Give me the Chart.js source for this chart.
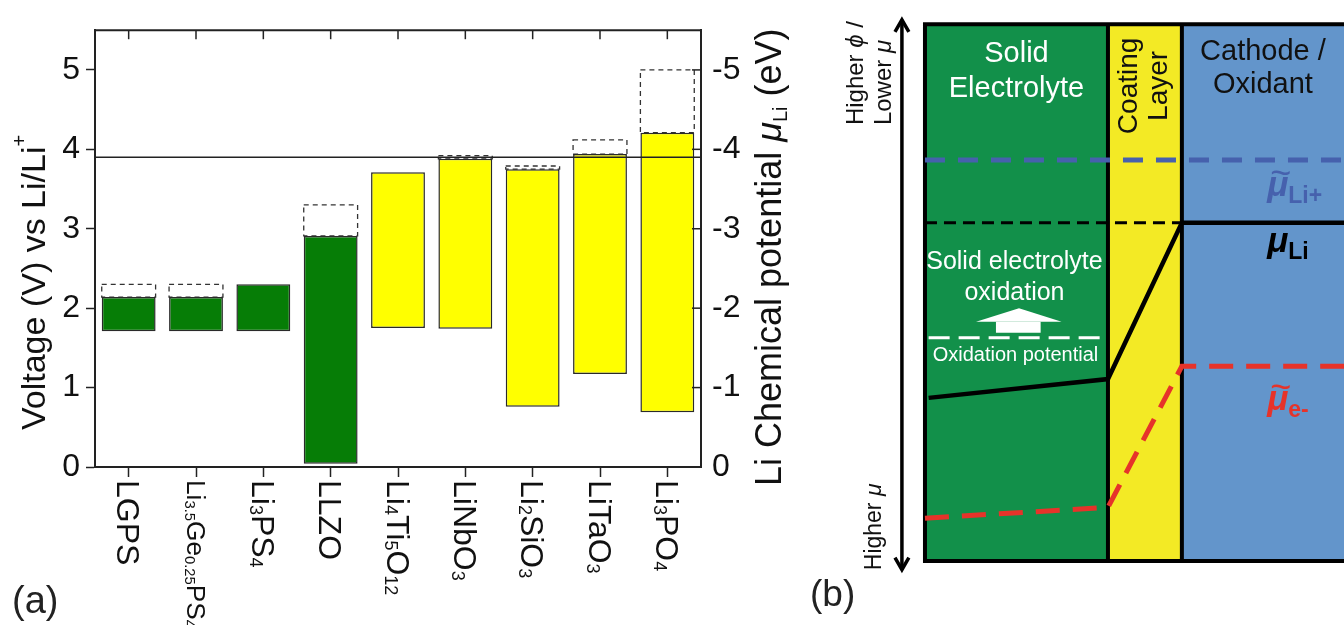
<!DOCTYPE html>
<html>
<head>
<meta charset="utf-8">
<script src="https://cdn.jsdelivr.net/npm/chart.js@4.4.0/dist/chart.umd.min.js"></script>
<style>
  html, body { margin: 0; padding: 0; background: #fff; }
  #wrap { position: relative; width: 1344px; height: 625px; overflow: hidden; }
  #chartA { position: absolute; left: 0; top: 0; }
  #chartB { position: absolute; left: 800px; top: 0; }
</style>
</head>
<body>
<div id="wrap">
  <canvas id="chartA" width="800" height="625"></canvas>
  <canvas id="chartB" width="544" height="625"></canvas>
</div>
<script>
// ---- panel (a): electrochemical windows ----
const categories = ['LGPS', 'Li_{3.5}Ge_{0.25}PS_{4}', 'Li_{3}PS_{4}', 'LLZO', 'Li_{4}Ti_{5}O_{12}',
  'LiNbO_{3}', 'Li_{2}SiO_{3}', 'LiTaO_{3}', 'Li_{3}PO_{4}'];
const windowLow = [1.71, 1.71, 1.71, 0.04, 1.75, 1.74, 0.76, 1.17, 0.69];
const windowHigh = [2.14, 2.14, 2.30, 2.91, 3.71, 3.88, 3.75, 3.94, 4.21];
const extendedHigh = [2.30, 2.30, null, 3.30, null, 3.92, 3.79, 4.12, 5.00];
const barColors = ['#067d06', '#067d06', '#067d06', '#067d06', '#ffff00', '#ffff00', '#ffff00', '#ffff00', '#ffff00'];
const cathodeVoltage = 3.9;
const voltageRange = [0, 5.5];

// ---- panel (b): schematic ----
const layerEdges = [0, 1.0, 1.404, 2.6];
const layerColors = ['#12904a', '#f3ea25', '#6395cb'];
const boxSpan = [0, 10];
const muLiPlusLevel = 7.47;
const muLiX = [0.02, 1.0, 1.404, 2.6];
const muLiY = [3.04, 3.39, 6.3, 6.3];
const muLiRefX = [0, 1.404];
const oxidationX = [0.02, 0.98];
const oxidationLevel = 4.16;
const muEX = [0, 1.0, 1.404, 2.6];
const muEY = [0.8, 1.0, 3.63, 3.63];
const arrowHeadX = [0.279, 0.514, 0.747];
const arrowHeadY = [4.456, 4.711, 4.456];
const arrowShaftX = [0.387, 0.633];
const arrowShaftY = [4.456, 4.251];
const scaleArrowX = -0.126;
const scaleArrowY = [-0.16, 10.08];
const viewX = [-0.683, 2.29];
const viewY = [-1.19, 10.45];

const FONT = '"Liberation Sans", Arial, "DejaVu Sans", sans-serif';
Chart.defaults.font.family = FONT;

function f(size, style) { return (style || '') + ' ' + size + 'px ' + FONT; }

function parseFormula(s) {
  const parts = [];
  const re = /_\{([^}]*)\}|([^_]+)/g;
  let m;
  while ((m = re.exec(s))) {
    if (m[1] !== undefined) parts.push({ t: m[1], sub: true });
    else parts.push({ t: m[2], sub: false });
  }
  return parts;
}

function runsWidth(ctx, runs) {
  let w = 0;
  runs.forEach(r => { ctx.font = r.font; w += ctx.measureText(r.t).width; });
  return w;
}

function drawRuns(ctx, runs, x, y) {
  ctx.textAlign = 'left';
  ctx.textBaseline = 'alphabetic';
  let cx = x;
  runs.forEach(r => {
    ctx.font = r.font;
    ctx.fillText(r.t, cx, y + (r.dy || 0));
    cx += ctx.measureText(r.t).width;
  });
  return cx - x;
}

function place(ctx, runs, px, py, align, angle) {
  ctx.save();
  ctx.translate(px, py);
  if (angle) ctx.rotate(angle);
  const w = runsWidth(ctx, runs);
  const x0 = align === 'center' ? -w / 2 : align === 'right' ? -w : 0;
  drawRuns(ctx, runs, x0, 0);
  ctx.restore();
}

const panelA = {
  id: 'panelA',
  beforeDatasetsDraw(chart) {
    const { ctx } = chart;
    const meta = chart.getDatasetMeta(0);
    ctx.save();
    ctx.setLineDash([5, 4]);
    ctx.lineWidth = 1.3;
    ctx.strokeStyle = '#333';
    meta.data.forEach((bar, i) => {
      if (extendedHigh[i] == null) return;
      const { x, y, base, width } = bar.getProps(['x', 'y', 'base', 'width'], true);
      ctx.strokeRect(x - width / 2, Math.min(y, base), width, Math.abs(base - y));
    });
    ctx.restore();
  },
  afterDatasetsDraw(chart) {
    const { ctx, chartArea: ca, scales } = chart;
    ctx.save();
    ctx.strokeStyle = '#222';
    // cathode reference line
    const yRef = scales.y.getPixelForValue(cathodeVoltage);
    ctx.lineWidth = 1.5;
    ctx.beginPath();
    ctx.moveTo(ca.left, yRef);
    ctx.lineTo(ca.right, yRef);
    ctx.stroke();
    // top frame and inward ticks
    ctx.lineWidth = 2;
    ctx.beginPath();
    ctx.moveTo(ca.left - 1, ca.top);
    ctx.lineTo(ca.right + 1, ca.top);
    ctx.stroke();
    ctx.lineWidth = 1.5;
    categories.forEach((c, i) => {
      const px = scales.x.getPixelForValue(i);
      ctx.beginPath();
      ctx.moveTo(px, ca.top);
      ctx.lineTo(px, ca.top + 9);
      ctx.stroke();
    });
    scales.y2.ticks.forEach(t => {
      if (t.value === 0) return;
      const py = scales.y2.getPixelForValue(t.value);
      ctx.beginPath();
      ctx.moveTo(ca.right, py);
      ctx.lineTo(ca.right - 9, py);
      ctx.stroke();
    });
    ctx.restore();
  },
  afterDraw(chart) {
    const { ctx, chartArea: ca, scales } = chart;
    ctx.save();
    ctx.fillStyle = '#111';
    // rotated category labels with subscripts
    categories.forEach((lab, i) => {
      const parts = parseFormula(lab);
      let main = 32, sub = 18;
      const mk = () => parts.map(p => ({ t: p.t, font: f(p.sub ? sub : main), dy: p.sub ? 2 : 0 }));
      let runs = mk();
      const w = runsWidth(ctx, runs);
      if (w > 148) { main *= 148 / w; sub *= 148 / w; runs = mk(); }
      ctx.save();
      ctx.translate(scales.x.getPixelForValue(i), ca.bottom + 13);
      ctx.rotate(Math.PI / 2);
      drawRuns(ctx, runs, 0, main * 0.716 / 2);
      ctx.restore();
    });
    // axis titles
    place(ctx, [
      { t: 'Voltage (V) vs Li/Li', font: f(34) },
      { t: '+', font: f(20), dy: -19 }
    ], 45, ca.bottom - 37, 'left', -Math.PI / 2);
    place(ctx, [
      { t: 'Li Chemical potential ', font: f(36) },
      { t: 'μ', font: f(36, 'italic') },
      { t: 'Li', font: f(20), dy: 6 },
      { t: ' (eV)', font: f(36) }
    ], 781, ca.bottom + 19, 'left', -Math.PI / 2);
    ctx.fillStyle = '#222';
    place(ctx, [{ t: '(a)', font: f(38) }], 12, 613, 'left');
    ctx.restore();
  }
};

new Chart(document.getElementById('chartA'), {
  type: 'bar',
  data: {
    labels: categories.map(c => c.replace(/_\{([^}]*)\}/g, '$1')),
    datasets: [
      {
        label: 'Extended window',
        data: windowHigh.map((h, i) => extendedHigh[i] == null ? null : [h, extendedHigh[i]]),
        backgroundColor: 'rgba(0,0,0,0)',
        borderWidth: 0,
        grouped: false,
        barPercentage: 0.8,
        categoryPercentage: 1
      },
      {
        label: 'Stability window',
        data: windowLow.map((l, i) => [l, windowHigh[i]]),
        backgroundColor: barColors,
        borderColor: '#2a2a2a',
        borderWidth: 1.5,
        borderSkipped: false,
        grouped: false,
        barPercentage: 0.8,
        categoryPercentage: 1
      }
    ]
  },
  options: {
    responsive: false,
    animation: false,
    layout: { padding: { top: 27 } },
    plugins: { legend: { display: false }, tooltip: { enabled: false } },
    scales: {
      x: {
        offset: true,
        grid: { offset: false, drawOnChartArea: false, tickLength: 10, tickWidth: 1.5, tickColor: '#222' },
        border: { color: '#222', width: 2 },
        ticks: { display: false },
        afterFit: s => { s.height = 158; }
      },
      y: {
        position: 'left',
        min: voltageRange[0],
        max: voltageRange[1],
        ticks: { stepSize: 1, includeBounds: false, font: { size: 32 }, color: '#111', padding: 6 },
        grid: { drawOnChartArea: false, tickLength: 9, tickWidth: 1.5, tickColor: '#222' },
        border: { color: '#222', width: 2 },
        afterFit: s => { s.width = 95; }
      },
      y2: {
        position: 'right',
        min: voltageRange[0],
        max: voltageRange[1],
        ticks: {
          stepSize: 1, includeBounds: false, font: { size: 32 }, color: '#111', padding: 11,
          callback: v => v === 0 ? '0' : '-' + v
        },
        grid: { drawOnChartArea: false, drawTicks: false },
        border: { color: '#222', width: 2 },
        afterFit: s => { s.width = 99; }
      }
    }
  },
  plugins: [panelA]
});

// ---- panel (b) ----
function pts(xs, ys) { return xs.map((x, i) => ({ x, y: ys[i] })); }
function lineSet(data, color, width, dash, order) {
  return {
    data, borderColor: color, borderWidth: width, borderDash: dash || [],
    borderCapStyle: 'butt', borderJoinStyle: 'miter', fill: false,
    pointRadius: 0, tension: 0, order: order || 3
  };
}
function areaSet(data, color, base, order) {
  return {
    data, backgroundColor: color, borderWidth: 0, fill: { value: base },
    pointRadius: 0, tension: 0, order: order || 10
  };
}

const boxTop = boxSpan[1], boxBot = boxSpan[0];
const boxRight = layerEdges[3];
const headDx = 0.038, headDy = 0.224;

const datasetsB = [
  areaSet(pts([layerEdges[0], layerEdges[1]], [boxTop, boxTop]), layerColors[0], boxBot),
  areaSet(pts([layerEdges[1], layerEdges[2]], [boxTop, boxTop]), layerColors[1], boxBot),
  areaSet(pts([layerEdges[2], layerEdges[3]], [boxTop, boxTop]), layerColors[2], boxBot),
  lineSet(pts([boxRight, layerEdges[0], layerEdges[0], boxRight], [boxBot, boxBot, boxTop, boxTop]), '#000', 4, null, 5),
  lineSet(pts([layerEdges[1], layerEdges[1]], [boxBot, boxTop]), '#000', 4, null, 5),
  lineSet(pts([layerEdges[2], layerEdges[2]], [boxBot, boxTop]), '#000', 4, null, 5),
  lineSet(pts([layerEdges[0], boxRight], [muLiPlusLevel, muLiPlusLevel]), '#4661ad', 5, [20, 13]),
  lineSet(pts(muLiRefX, [muLiY[2], muLiY[2]]), '#000', 3, [12, 7]),
  lineSet(pts(muLiX, muLiY), '#000', 4.5),
  lineSet(pts(oxidationX, [oxidationLevel, oxidationLevel]), '#fff', 3, [21, 9]),
  lineSet(pts(muEX, muEY), '#e6332a', 5, [24, 13]),
  areaSet(pts(arrowHeadX, arrowHeadY), '#fff', arrowHeadY[0], 3),
  areaSet(pts(arrowShaftX, [arrowShaftY[0], arrowShaftY[0]]), '#fff', arrowShaftY[1], 3),
  lineSet(pts([scaleArrowX, scaleArrowX], scaleArrowY), '#000', 3.5),
  lineSet(pts([scaleArrowX - headDx, scaleArrowX, scaleArrowX + headDx],
    [scaleArrowY[1] - headDy, scaleArrowY[1], scaleArrowY[1] - headDy]), '#000', 3.5),
  lineSet(pts([scaleArrowX - headDx, scaleArrowX, scaleArrowX + headDx],
    [scaleArrowY[0] + headDy, scaleArrowY[0], scaleArrowY[0] + headDy]), '#000', 3.5)
];

function muLabel(ctx, px, py, color, sub, tilde) {
  ctx.fillStyle = color;
  ctx.font = f(35, 'italic bold');
  const wMu = ctx.measureText('μ').width;
  drawRuns(ctx, [{ t: 'μ', font: f(35, 'italic bold') }, { t: sub, font: f(23, 'bold'), dy: 7 }], px, py);
  if (tilde) {
    ctx.font = f(36);
    ctx.textAlign = 'center';
    ctx.fillText('~', px + wMu / 2 + 3, py - 11);
  }
}

const panelB = {
  id: 'panelB',
  afterDatasetsDraw(chart) {
    const { ctx, scales: { x, y } } = chart;
    const X = v => x.getPixelForValue(v), Y = v => y.getPixelForValue(v);
    const midE = X((layerEdges[0] + layerEdges[1]) / 2);
    const midC = X((layerEdges[2] + 2.29) / 2);
    const midL = (layerEdges[1] + layerEdges[2]) / 2;
    ctx.save();
    ctx.fillStyle = '#fff';
    place(ctx, [{ t: 'Solid', font: f(29) }], midE, Y(9.29), 'center');
    place(ctx, [{ t: 'Electrolyte', font: f(29) }], midE, Y(8.64), 'center');
    place(ctx, [{ t: 'Solid electrolyte', font: f(25) }], midE - 2, Y(5.44), 'center');
    place(ctx, [{ t: 'oxidation', font: f(25) }], midE - 2, Y(4.86), 'center');
    place(ctx, [{ t: 'Oxidation potential', font: f(20) }], midE - 1, Y(3.72), 'center');
    ctx.fillStyle = '#111';
    place(ctx, [{ t: 'Cathode /', font: f(29) }], midC, Y(9.33), 'center');
    place(ctx, [{ t: 'Oxidant', font: f(29) }], midC, Y(8.72), 'center');
    place(ctx, [{ t: 'Coating', font: f(28) }], X(midL) - 8, Y(8.85), 'center', -Math.PI / 2);
    place(ctx, [{ t: 'Layer', font: f(28) }], X(midL) + 22, Y(8.85), 'center', -Math.PI / 2);
    muLabel(ctx, X(1.87), Y(6.80), '#4661ad', 'Li+', true);
    muLabel(ctx, X(1.87), Y(5.75), '#000', 'Li', false);
    muLabel(ctx, X(1.87), Y(2.81), '#e6332a', 'e-', true);
    ctx.fillStyle = '#111';
    place(ctx, [{ t: 'Higher ', font: f(24) }, { t: 'ϕ', font: f(24, 'italic') }, { t: ' /', font: f(24) }],
      X(-0.339), Y(8.12), 'left', -Math.PI / 2);
    place(ctx, [{ t: 'Lower ', font: f(24) }, { t: 'μ', font: f(24, 'italic') }],
      X(-0.183), Y(8.12), 'left', -Math.PI / 2);
    place(ctx, [{ t: 'Higher ', font: f(23) }, { t: 'μ', font: f(23, 'italic') }],
      X(-0.24), Y(-0.17), 'left', -Math.PI / 2);
    ctx.fillStyle = '#222';
    place(ctx, [{ t: '(b)', font: f(37) }], 10, 606, 'left');
    ctx.restore();
  }
};

new Chart(document.getElementById('chartB'), {
  type: 'line',
  data: { datasets: datasetsB },
  options: {
    responsive: false,
    animation: false,
    layout: { padding: 0 },
    plugins: { legend: { display: false }, tooltip: { enabled: false }, filler: { propagate: false } },
    scales: {
      x: { type: 'linear', display: false, min: viewX[0], max: viewX[1] },
      y: { type: 'linear', display: false, min: viewY[0], max: viewY[1] }
    }
  },
  plugins: [panelB]
});
</script>
</body>
</html>
